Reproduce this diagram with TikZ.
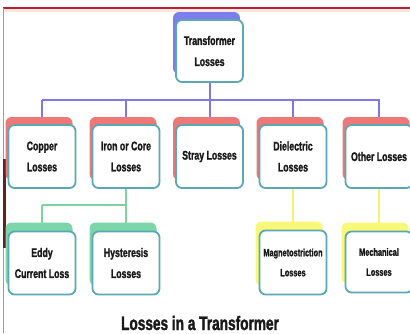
\documentclass[tikz,border=0pt]{standalone}
\usepackage{fontspec}
\newfontfamily\boxfont{Liberation Sans}[FakeStretch=0.70, FakeBold=1.6]
\usetikzlibrary{shadows}
\definecolor{teal1}{RGB}{90,168,180}
\definecolor{shred}{RGB}{238,120,120}
\definecolor{shblue}{RGB}{125,125,235}
\definecolor{shgreen}{RGB}{125,214,170}
\definecolor{shyellow}{RGB}{250,248,120}
\definecolor{lnblue}{RGB}{125,120,230}
\definecolor{lngreen}{RGB}{125,210,160}
\definecolor{lnyellow}{RGB}{245,240,120}
\definecolor{txt}{RGB}{25,25,25}
\definecolor{topred}{RGB}{190,30,45}
\definecolor{leftred}{RGB}{230,125,125}
\definecolor{darkbar}{RGB}{95,35,35}
\definecolor{pinkband}{RGB}{252,232,225}
\tikzset{
  lossbox/.style={draw=teal1, line width=1.8pt, fill=white, rounded corners=6pt,
    minimum width=67pt, minimum height=63pt, inner sep=1pt, align=center,
    text=txt, font=\boxfont\bfseries\fontsize{12.5}{21}\selectfont},
  smalltext/.style={font=\boxfont\bfseries\fontsize{10.5}{20}\selectfont},
  redsh/.style={general shadow={shadow xshift=-3pt, shadow yshift=8pt, fill=shred, draw=none}},
  bluesh/.style={general shadow={shadow xshift=-3pt, shadow yshift=8pt, fill=shblue, draw=none}},
  greensh/.style={general shadow={shadow xshift=-3pt, shadow yshift=9pt, fill=shgreen, draw=none}},
  yellowsh/.style={general shadow={shadow xshift=-4pt, shadow yshift=9pt, fill=shyellow, draw=none}},
  blueline/.style={draw=lnblue, line width=2pt},
  greenline/.style={draw=lngreen, line width=2.2pt},
  yellowline/.style={draw=lnyellow, line width=2pt},
}
\begin{document}
\begin{tikzpicture}[x=1pt, y=-1pt]
\useasboundingbox (0,0) rectangle (410,333);
% frame marks
\fill[pinkband] (3,9) rectangle (410,12);
\draw[topred, line width=1.5pt] (3,8) -- (410,8);
\draw[leftred, line width=0.8pt] (3,8) -- (3,333);
\fill[darkbar] (2.5,159) rectangle (6,248);
% coordinates for buses
\coordinate (busL) at (42,100);
\coordinate (busR) at (380,100);
\coordinate (gbusL) at (42,205);
\coordinate (gbusR) at (126,205);
% node positions
\path
  (209.5,51) coordinate (ptop)
  (42,156.5) coordinate (pcopper)
  (126,156.5) coordinate (piron)
  (209.5,156.5) coordinate (pstray)
  (293,156.5) coordinate (pdiel)
  (379,156.5) coordinate (pother)
  (42,263) coordinate (peddy)
  (126,263) coordinate (physt)
  (293,262.5) coordinate (pmag)
  (379,262) coordinate (pmech);
% connectors (drawn first, behind boxes)
\draw[blueline] (ptop) -- (ptop |- busL);
\draw[blueline] (busL) -- (busR);
\draw[blueline] (pcopper |- busL) -- (pcopper);
\draw[blueline] (piron |- busL) -- (piron);
\draw[blueline] (pstray |- busL) -- (pstray);
\draw[blueline] (pdiel |- busL) -- (pdiel);
\draw[blueline] (pother |- busL) -- (pother);
\draw[greenline] (piron) -- (gbusR);
\draw[greenline] (gbusL) -- (gbusR);
\draw[greenline] (gbusL) -- (peddy);
\draw[greenline] (gbusR) -- (physt);
\draw[yellowline] (pdiel) -- (pmag);
\draw[yellowline] (pother) -- (pmech);
% boxes
\node[lossbox, bluesh, minimum height=62pt] (top) at (ptop) {Transformer\\Losses};
\node[lossbox, redsh] (copper) at (pcopper) {Copper\\Losses};
\node[lossbox, redsh] (iron) at (piron) {Iron or Core\\Losses};
\node[lossbox, redsh] (stray) at (pstray) {Stray Losses};
\node[lossbox, redsh] (diel) at (pdiel) {Dielectric\\Losses};
\node[lossbox, redsh] (other) at (pother) {Other Losses};
\node[lossbox, greensh] (eddy) at (peddy) {Eddy\\Current Loss};
\node[lossbox, greensh] (hyst) at (physt) {Hysteresis\\Losses};
\node[lossbox, yellowsh, smalltext, minimum height=64pt] (mag) at (pmag) {Magnetostriction\\Losses};
\node[lossbox, yellowsh, smalltext, minimum height=61pt] (mech) at (pmech) {Mechanical\\Losses};
% title
\node[anchor=base, inner sep=0pt, text=txt, font=\boxfont\bfseries\fontsize{19.5}{22}\selectfont] (title) at (200,330) {Losses in a Transformer};
\end{tikzpicture}
\end{document}
